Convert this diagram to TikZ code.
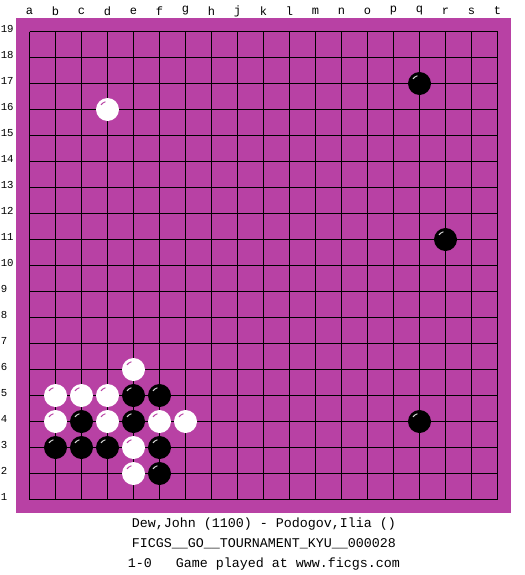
\documentclass[tikz,border=0pt]{standalone}
\usepackage{fontspec}
\setmonofont{Liberation Mono}
\definecolor{board}{RGB}{184,65,164}
\begin{document}
\begin{tikzpicture}[x=0.75pt,y=-0.75pt,
  lbl/.style={font=\ttfamily\fontsize{9}{11}\selectfont,inner sep=0},
  rlbl/.style={font=\ttfamily\fontsize{8}{10}\selectfont,inner sep=0,anchor=west},
  info/.style={font=\ttfamily\fontsize{10}{12}\selectfont,inner sep=0},
  stonebase/.style={circle,minimum size=17.25pt,inner sep=0},
  bstone/.style={stonebase,fill=black},
  wstone/.style={stonebase,fill=white},
  gridline/.style={line width=0.75pt},
  hlb/.style={draw=white!85!black,line width=0.7pt},
  hlw/.style={draw=board,line width=0.7pt}]
\useasboundingbox (0,0) rectangle (525,575);
\fill[white] (0,0) rectangle (525,575);
\fill[board] (16,18) rectangle (511,513);
\foreach \i in {0,...,18} {
  \draw[gridline] (29.5+26*\i,31.5) -- (29.5+26*\i,499.5);
  \draw[gridline] (29.5,31.5+26*\i) -- (497.5,31.5+26*\i);
}
\foreach \l [count=\i from 0] in {a,b,c,d,e,f,g,h,j,k,l,m,n,o,p,q,r,s,t}
  \node[lbl] (col\l) at (29.5+26*\i,11) {\l};
\foreach \r in {1,...,19}
  \node[rlbl] (row\r) at (0.5,29+26*19-26*\r) {\r};
% white stones
\foreach \c/\r [count=\n] in {3/16,4/6,1/5,2/5,3/5,1/4,3/4,5/4,6/4,4/3,4/2} {
  \node[wstone] (w\n) at (29.5+26*\c,31.5+26*19-26*\r) {};
  \draw[hlw] ([shift={(105:6pt)}]w\n.center) arc[start angle=105,end angle=145,radius=6pt];
}
% black stones
\foreach \c/\r [count=\n] in {15/17,16/11,15/4,4/5,5/5,2/4,4/4,1/3,2/3,3/3,5/3,5/2} {
  \node[bstone] (b\n) at (29.5+26*\c,31.5+26*19-26*\r) {};
  \draw[hlb] ([shift={(105:6pt)}]b\n.center) arc[start angle=105,end angle=145,radius=6pt];
}
\node[info] (t1) at (264,524) {Dew,John (1100) - Podogov,Ilia ()};
\node[info] (t2) at (264,544) {FICGS\_\_GO\_\_TOURNAMENT\_KYU\_\_000028};
\node[info] (t3) at (264,564) {1-0\ \ \ Game played at www.ficgs.com};
\end{tikzpicture}
\end{document}
